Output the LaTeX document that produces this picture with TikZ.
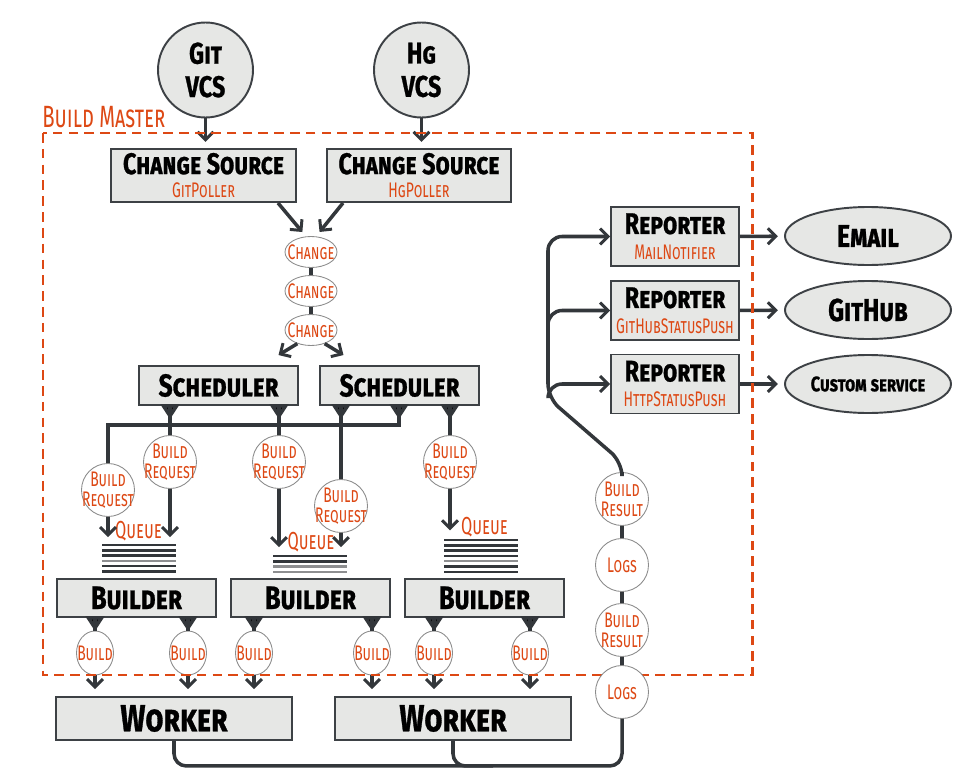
\documentclass[tikz,border=0pt]{standalone}
\usepackage{fontspec}
\setmainfont{Fira Sans}
\newfontfamily\headfont{Fira Sans}[FakeStretch=0.78,Letters=SmallCaps,BoldFeatures={FakeBold=0.8}]
\newfontfamily\labfont{Fira Sans}[FakeStretch=0.66,Letters=SmallCaps]
\usetikzlibrary{arrows.meta}
\usetikzlibrary{shapes.geometric}
\definecolor{boxfill}{HTML}{E6E7E5}
\definecolor{boxline}{HTML}{3D4145}
\definecolor{wire}{HTML}{33373B}
\definecolor{bbred}{HTML}{DD4814}
\definecolor{msgline}{HTML}{8C8C8C}
\definecolor{qgray}{HTML}{8E8F91}
\def\px{0.02cm}
\newcommand{\subfont}{\color{bbred}\labfont\mdseries\fontsize{12}{12}\selectfont}
\newcommand{\headsize}[1]{\headfont\bfseries\fontsize{#1}{#1}\selectfont}
\tikzset{
    box/.style={draw=boxline, fill=boxfill, line width=1.1pt, inner sep=0pt, align=center, font=\headsize{17}},
    msg/.style={draw=msgline, fill=white, line width=0.5pt, text=bbred, inner sep=0pt, align=center, font=\labfont\fontsize{12}{11.5}\selectfont},
    wire/.style={draw=wire, line width=2pt},
    arr/.style={wire, -{Straight Barb[length=4.5pt,width=9pt,line width=1.7pt]}},
    master/.style={draw=bbred, line width=1.7pt, dash pattern=on 5.5pt off 3.5pt}
}
\begin{document}
\begin{tikzpicture}[x=0.02cm,y=-0.02cm]
\useasboundingbox (0,0) rectangle (967,784);
% version control systems and change sources
\node[box, circle, minimum size={95*\px}, align=center] (git) at (205.5,70) {Git\\[2pt]VCS};
\node[box, circle, minimum size={95*\px}, align=center] (hg) at (421.5,70) {Hg\\[2pt]VCS};
\node[box, minimum width={185*\px}, minimum height={53*\px}] (cs1) at (203.5,175.5) {Change Source\\[-3.5pt]\subfont GitPoller};
\node[box, minimum width={184*\px}, minimum height={53*\px}] (cs2) at (419,175.5) {Change Source\\[-3.5pt]\subfont HgPoller};
\foreach \i/\y in {1/252,2/291,3/330}{
    \node[msg, ellipse, inner xsep=-4pt, minimum width={52*\px}, minimum height={31*\px}] (ch\i) at (311,\y) {Change};
}
% schedulers, build requests, queues
\node[box, minimum width={159*\px}, minimum height={39*\px}, font=\headsize{18}] (s1) at (218.5,385.5) {Scheduler};
\node[box, minimum width={159*\px}, minimum height={39*\px}, font=\headsize{18}] (s2) at (399.5,385.5) {Scheduler};
\foreach \n/\x/\y in {br1/108/490, br2/170/462, br3/279/462, br4/341/506, br5/450/462}{
    \node[msg, circle, inner sep=-2.5pt, minimum size={53*\px}] (\n) at (\x,\y) {Build\\Request};
}
\coordinate (q1) at (102,545);
\coordinate (q2) at (273,556);
\coordinate (q3) at (444,540);
\foreach \q/\shades in {q1/{wire,wire,wire,qgray,wire,wire}, q2/{wire,wire,qgray,qgray}, q3/{wire,wire,wire,wire,qgray,wire,wire}}{
    \foreach \c [count=\k] in \shades {
        \draw[\c, line width=1.4pt] ([yshift={-(\k-1)*5.3*0.02cm}]\q) -- ++(74,0);
    }
}
\foreach \n/\x/\y in {ql1/138.5/531, ql2/311/542, ql3/484.5/527}{
    \node[text=bbred, font=\labfont\fontsize{14}{14}\selectfont, inner sep=0pt] (\n) at (\x,\y) {Queue};
}
% builders, builds, workers
\foreach \n/\x in {b1/136.5, b2/310.5, b3/484.5}{
    \node[box, minimum width={159*\px}, minimum height={38*\px}, font=\headsize{18.5}] (\n) at (\x,598) {Builder};
}
\foreach \n/\x in {bd1/95, bd2/188, bd3/254, bd4/372, bd5/434, bd6/530}{
    \node[msg, ellipse, inner xsep=-5pt, minimum width={37*\px}, minimum height={44*\px}] (\n) at (\x,653) {Build};
}
\node[box, minimum width={236*\px}, minimum height={43*\px}, font=\headsize{21.5}] (w1) at (174,718.5) {Worker};
\node[box, minimum width={236*\px}, minimum height={43*\px}, font=\headsize{21.5}] (w2) at (453,718.5) {Worker};
% reporters and services
\foreach \n/\y/\sub in {rep1/236.5/MailNotifier, rep2/310.5/GitHubStatusPush, rep3/384/HttpStatusPush}{
    \node[box, minimum width={128*\px}, minimum height={59*\px}] (\n) at (675,\y) {Reporter\\[-2.5pt]\subfont \sub};
}
\foreach \n/\y/\txt in {email/236/Email, github/310/GitHub}{
    \node[box, ellipse, minimum width={166*\px}, minimum height={58*\px}, font=\headsize{18}] (\n) at (868,\y) {\txt};
}
\node[box, ellipse, minimum width={166*\px}, minimum height={58*\px}, font=\headsize{12}] (custom) at (868,384) {Custom service};
% ports
\foreach \p/\x/\b in {s1a/170/s1, s1b/279/s1, s2a/341/s2, s2b/399/s2, s2c/450/s2, b1a/95/b1, b1b/188/b1, b2a/254/b2, b2b/372/b2, b3a/434/b3, b3b/530/b3}{
    \coordinate (\p) at (\x,0 |- \b.south);
    \fill[wire] (\p) ++(-6.5,0) -- ++(13,0) -- ++(-6.5,10) -- cycle;
}
% connectors
\draw[arr, shorten >=3.5pt] (git) -- (git |- cs1.north);
\draw[arr, shorten >=3.5pt] (hg) -- (hg |- cs2.north);
\draw[arr, shorten >=3pt] (278,0 |- cs1.south) -- ([xshift=-3pt]ch1.north);
\draw[arr, shorten >=3pt] (343,0 |- cs2.south) -- ([xshift=3pt]ch1.north);
\draw[wire] (ch1) -- (ch2) -- (ch3);
\draw[arr, shorten >=11pt] (ch3.-135) -- (262,0 |- s1.north);
\draw[arr, shorten >=11pt] (ch3.-45) -- (360,0 |- s2.north);
\draw[wire] (s1a) -- (br2);
\draw[wire] (s1b) -- (br3);
\draw[wire] (s2a) -- (br4);
\draw[wire] (s2c) -- (br5);
\draw[wire] (s2b) -- ++(0,19) -| (br1);
\draw[arr, shorten >=4.5pt] (br1) -- (br1 |- q1);
\draw[arr, shorten >=4.5pt] (br2) -- (br2 |- q1);
\draw[arr, shorten >=5pt] (br3) -- (br3 |- q2);
\draw[arr, shorten >=5pt] (br4) -- (br4 |- q2);
\draw[arr, shorten >=5.5pt] (br5) -- (br5 |- q3);
\foreach \p/\m in {b1a/bd1, b1b/bd2, b2a/bd3, b2b/bd4, b3a/bd5, b3b/bd6}{
    \draw[wire] (\p) -- (\m);
}
\foreach \m/\w in {bd1/w1, bd2/w1, bd3/w1, bd4/w2, bd5/w2, bd6/w2}{
    \draw[arr, shorten >=4pt] (\m) -- (\m |- \w.north);
}
\draw[arr, shorten >=3.5pt] (rep1) -- (email);
\draw[arr, shorten >=3.5pt] (rep2) -- (github);
\draw[arr, shorten >=3.5pt] (rep3) -- (custom);
% build master
\draw[master] (43,133) rectangle (752,675);
\node[text=bbred, font=\labfont\fontsize{17.5}{17.5}\selectfont, anchor=base west, inner sep=0pt] (bm) at (42,128) {Build Master};
% results and logs
\foreach \n/\y/\txt in {rr1/499/{Build\\Result}, lg1/565/Logs, rr2/630/{Build\\Result}, lg2/692/Logs}{
    \node[msg, circle, inner sep=-2.5pt, minimum size={53*\px}] (\n) at (622,\y) {\txt};
}
\draw[wire] (rr1) -- (lg1) -- (rr2) -- (lg2);
\coordinate (bus) at (548,0);
\coordinate (bend) at (548,398);
\draw[arr, rounded corners=8pt] (rr1.north) -- ++(0,-10) -- (bend) -- (bus |- rep1.west) -- (rep1.west);
\draw[arr, rounded corners=8pt] ([yshift=-12pt]bus |- rep2.west) -- (bus |- rep2.west) -- (rep2.west);
\draw[arr, rounded corners=8pt] (bend) -- (bus |- rep3.west) -- (rep3.west);
\draw[wire, rounded corners=7pt] (w1.south) -- ++(0,25) -| (lg2.south);
\draw[wire, rounded corners=7pt] (w2.south) -- ++(0,25) -- ++(40,0);
\end{tikzpicture}
\end{document}
